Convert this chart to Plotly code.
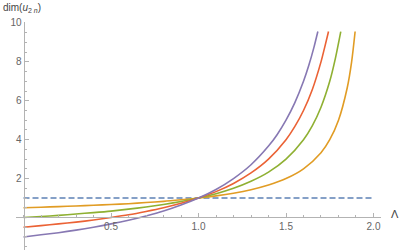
import plotly.graph_objects as go

# values
lam_purple = [0, 0.1, 0.2, 0.3, 0.4, 0.5, 0.6, 0.7, 0.8, 0.9, 1.0, 1.1, 1.2, 1.3, 1.4, 1.45, 1.5, 1.55, 1.6, 1.63, 1.66, 1.682]
dim_purple = [-1.0, -0.89, -0.78, -0.65, -0.5, -0.33, -0.14, 0.08, 0.33, 0.64, 1.0, 1.44, 2.0, 2.71, 3.67, 4.27, 5.0, 5.89, 7.0, 7.81, 8.76, 9.56]

lam_red = [0, 0.1, 0.2, 0.3, 0.4, 0.5, 0.6, 0.7, 0.8, 0.9, 1.0, 1.1, 1.2, 1.3, 1.4, 1.5, 1.55, 1.6, 1.65, 1.7, 1.72, 1.743]
dim_red = [-0.5, -0.42, -0.33, -0.24, -0.13, 0.0, 0.14, 0.31, 0.5, 0.73, 1.0, 1.33, 1.75, 2.29, 3.0, 4.0, 4.67, 5.5, 6.57, 8.0, 8.71, 9.56]

lam_green = [0, 0.1, 0.2, 0.3, 0.4, 0.5, 0.6, 0.7, 0.8, 0.9, 1.0, 1.1, 1.2, 1.3, 1.4, 1.5, 1.6, 1.65, 1.7, 1.75, 1.78, 1.813]
dim_green = [0.0, 0.05, 0.11, 0.18, 0.25, 0.33, 0.43, 0.54, 0.67, 0.82, 1.0, 1.22, 1.5, 1.86, 2.33, 3.0, 4.0, 4.71, 5.67, 7.0, 8.09, 9.56]

lam_orange = [0, 0.1, 0.2, 0.3, 0.4, 0.5, 0.6, 0.7, 0.8, 0.9, 1.0, 1.1, 1.2, 1.3, 1.4, 1.5, 1.6, 1.7, 1.75, 1.8, 1.85, 1.875, 1.895]
dim_orange = [0.5, 0.53, 0.56, 0.59, 0.63, 0.67, 0.71, 0.77, 0.83, 0.91, 1.0, 1.11, 1.25, 1.43, 1.67, 2.0, 2.5, 3.33, 4.0, 5.0, 6.67, 8.0, 9.56]

lam_ref = [0, 2.0]
dim_ref = [1, 1]

x_ticks = [0.5, 1.0, 1.5, 2.0]
x_ticktext = ["0.5", "1.0", "1.5", "2.0"]
y_ticks = [2, 4, 6, 8, 10]
y_ticktext = ["2", "4", "6", "8", "10"]

W, H = 400, 250
L, R, T, B = 16, 19, 22, 0
XMIN, XMAX = -0.0429, 2.0429
YMIN, YMAX = -1.671, 10.05

fig = go.Figure()
fig.add_trace(go.Scatter(x=lam_ref, y=dim_ref, mode="lines",
                         line=dict(color="#5E81B5", width=1.6, dash="6px,3px")))
series = [
    (lam_orange, dim_orange, "#E19C24"),
    (lam_green, dim_green, "#8FB032"),
    (lam_red, dim_red, "#EB6235"),
    (lam_purple, dim_purple, "#8778B3"),
]
for xs, ys, c in series:
    fig.add_trace(go.Scatter(x=xs, y=ys, mode="lines",
                             line=dict(color=c, width=1.6, shape="spline", smoothing=0.8)))

pw = W - L - R
ph = H - T - B

axis_col = "#b3b3b3"
font = dict(family="Liberation Sans", size=10, color="#666666")

fig.update_layout(
    width=W, height=H,
    margin=dict(l=L, r=R, t=T, b=B, pad=0),
    paper_bgcolor="white", plot_bgcolor="white",
    showlegend=False,
    font=font,
    xaxis=dict(range=[XMIN, XMAX], showgrid=False, zeroline=False,
               showline=True, linecolor=axis_col, linewidth=1,
               anchor="free", position=(0 - YMIN) / (YMAX - YMIN),
               tickmode="array", tickvals=x_ticks, ticktext=x_ticktext,
               ticks="inside", ticklen=4, tickcolor=axis_col, tickwidth=1,
               minor=dict(dtick=0.1, tick0=0, ticks="inside", ticklen=2.5,
                          tickcolor=axis_col, tickwidth=1, showgrid=False),
               automargin=False, tickfont=font),
    yaxis=dict(range=[YMIN, YMAX], showgrid=False, zeroline=False,
               showline=True, linecolor=axis_col, linewidth=1,
               anchor="free", position=(0 - XMIN) / (XMAX - XMIN),
               tickmode="array", tickvals=y_ticks, ticktext=y_ticktext,
               ticks="inside", ticklen=4, tickcolor=axis_col, tickwidth=1,
               minor=dict(dtick=0.5, tick0=0, ticks="inside", ticklen=2.5,
                          tickcolor=axis_col, tickwidth=1, showgrid=False),
               automargin=False, tickfont=font),
)

def px2paper(px, py):
    return (px - L) / pw, (H - B - py) / ph

ax, ay = px2paper(1, 8)
fig.add_annotation(x=ax, y=ay, xref="paper", yref="paper",
                   text="dim(<i>u</i><sub>2 <i>n</i></sub>)", showarrow=False,
                   xanchor="left", yanchor="middle",
                   font=dict(family="Liberation Sans", size=10, color="#444444"))
lx, ly = px2paper(395, 214)
fig.add_annotation(x=lx, y=ly, xref="paper", yref="paper",
                   text="Λ", showarrow=False, xanchor="center", yanchor="middle",
                   font=dict(family="Liberation Sans", size=11, color="#444444"))

fig.write_html("out.html",
               config={"displayModeBar": False, "staticPlot": True},
               post_script="document.body.style.margin='0';document.body.style.padding='0';")
